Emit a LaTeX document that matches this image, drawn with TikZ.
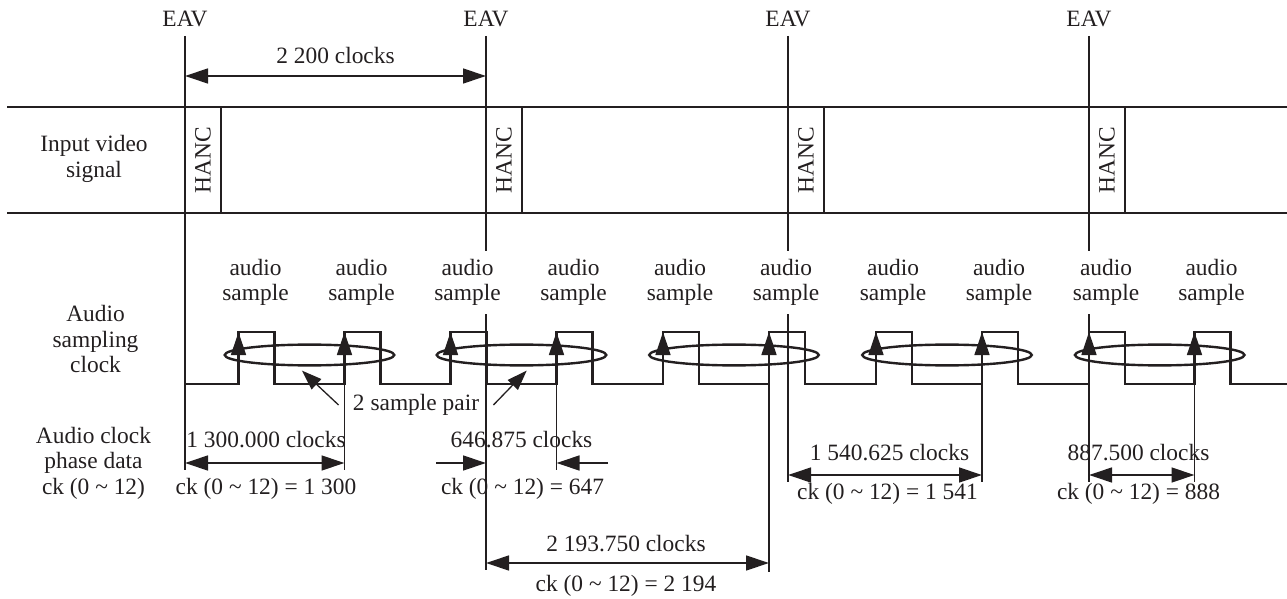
\documentclass[tikz,border=0pt]{standalone}
\usepackage{fontspec}
\setmainfont{Liberation Serif}
\usepackage{tikz}
\usetikzlibrary{arrows.meta, shapes.geometric}
\definecolor{ink}{HTML}{231F20}

\begin{document}
\begin{tikzpicture}[
    x=0.5pt, y=-0.5pt,
    every node/.style={font=\fontsize{11.7}{12.8}\selectfont, text=ink, inner sep=1pt},
    lbl/.style={align=center},
    smp/.style={align=center, fill=white, inner xsep=1pt, inner ysep=4pt},
    fine/.style={draw=ink, line width=0.55pt},
    heavy/.style={draw=ink, line width=1.25pt},
    wave/.style={draw=ink, line width=1.2pt},
    dimarr/.style={draw=ink, line width=0.65pt, {Triangle[length=11.5pt, width=7.5pt]}-{Triangle[length=11.5pt, width=7.5pt]}},
    ptr/.style={draw=ink, line width=0.65pt, -{Triangle[length=11.5pt, width=7.5pt]}},
    ring/.style={ellipse, draw=ink, line width=1.2pt, minimum width=84.8pt, minimum height=10.4pt, inner sep=0pt},
]
\useasboundingbox (0,0) rectangle (1287,599);

% EAV markers
\node (eav1) at (185,18.5) {EAV};
\node (eav2) at (486,18.5) {EAV};
\node (eav3) at (788,18.5) {EAV};
\node (eav4) at (1089,18.5) {EAV};
\draw[fine] (185,36) -- (185,470);
\draw[fine] (486,36) -- (486,570);
\draw[fine] (788,36) -- (788,482);
\draw[fine] (1089,36) -- (1089,482);

% one line period
\draw[dimarr] (185,76) -- (486,76);
\node (hline) at (335.5,55.5) {2 200 clocks};

% Input video signal
\node[lbl] (vid) at (94,159) {Input video\\signal};
\draw[heavy] (7,107) -- (1287,107);
\draw[heavy] (7,213) -- (1287,213);
\foreach \e [count=\i] in {185,486,788,1089} {
  \draw[heavy] (\e,107) -- (\e,213) (\e+36,107) -- (\e+36,213);
  \node[rotate=90] (hanc\i) at (\e+18,160) {HANC};
}

% Audio sampling clock
\node[lbl] (clk) at (95.5,339) {Audio\\sampling\\clock};
\draw[wave] (185,384) foreach \r in {238.5,344.5,450.5,556.5,663,769,876,982,1089,1194.5} {
  -- (\r,384) -- (\r,332) -- (\r+36,332) -- (\r+36,384)} -- (1287,384);
\foreach \r [count=\i] in {238.5,344.5,450.5,556.5,663,769,876,982,1089,1194.5} {
  \draw[ptr] (\r,384) -- (\r,332);
  \node[smp] (as\i) at (\r+17,282.5) {audio\\sample};
}

% sample pairs
\node[ring] (pr1) at (309.5,355) {};
\node[ring] (pr2) at (521.5,355) {};
\node[ring] (pr3) at (734,355) {};
\node[ring] (pr4) at (947,355) {};
\node[ring] (pr5) at (1159.7,355) {};
\node[inner xsep=7pt] (spair) at (416,405) {2 sample pair};
\draw[ptr, -{Triangle[length=10pt, width=7pt]}] (spair.west) -- ([xshift=-3.8pt, yshift=-2pt]pr1.south);
\draw[ptr, -{Triangle[length=10pt, width=7pt]}] (spair.east) -- ([xshift=2.6pt, yshift=-2pt]pr2.south);

% Audio clock phase data
\node[lbl] (ckd) at (93.5,463) {Audio clock\\phase data\\ck (0 \textasciitilde{} 12)};
\draw[fine] (344.5,384) -- (344.5,470);
\draw[fine] (556.5,384) -- (556.5,470);
\draw[fine] (769,384) -- (769,572);
\draw[fine] (982,384) -- (982,482);
\draw[fine] (1194.5,384) -- (1194.5,482);

\draw[dimarr] (185,463) -- (344.5,463);
\node (c1) at (266,440) {1 300.000 clocks};
\node (k1) at (266,489) {ck (0 \textasciitilde{} 12) = 1 300};

\draw[ptr] (436,463) -- (486,463);
\draw[ptr] (608,463) -- (556.5,463);
\node (c2) at (521.5,440) {646.875 clocks};
\node (k2) at (522.5,489) {ck (0 \textasciitilde{} 12) = 647};

\draw[dimarr] (486,563) -- (769,563);
\node (c3) at (626,543.5) {2 193.750 clocks};
\node (k3) at (626,586) {ck (0 \textasciitilde{} 12) = 2 194};

\draw[dimarr] (788,475) -- (982,475);
\node (c4) at (889.5,453) {1 540.625 clocks};
\node (k4) at (887.5,494) {ck (0 \textasciitilde{} 12) = 1 541};

\draw[dimarr] (1089,475) -- (1194.5,475);
\node (c5) at (1138.5,453) {887.500 clocks};
\node (k5) at (1138.5,494) {ck (0 \textasciitilde{} 12) = 888};

\end{tikzpicture}
\end{document}
